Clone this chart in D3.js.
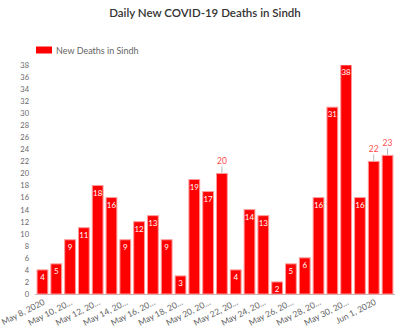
<!DOCTYPE html>
<html>
<head>
<meta charset="utf-8">
<script src="https://cdn.jsdelivr.net/npm/d3@7"></script>
<style>
  html, body { margin: 0; padding: 0; background: #fff; }
  svg { display: block; font-family: Lato, "Noto Sans", sans-serif; }
</style>
</head>
<body>
<svg id="chart" width="400" height="331"></svg>
<script>
// Daily new COVID-19 deaths in Sindh, 8 May – 2 June 2020
const dates = [
  "May 8, 2020", "May 9, 2020", "May 10, 2020", "May 11, 2020", "May 12, 2020",
  "May 13, 2020", "May 14, 2020", "May 15, 2020", "May 16, 2020", "May 17, 2020",
  "May 18, 2020", "May 19, 2020", "May 20, 2020", "May 21, 2020", "May 22, 2020",
  "May 23, 2020", "May 24, 2020", "May 25, 2020", "May 26, 2020", "May 27, 2020",
  "May 28, 2020", "May 29, 2020", "May 30, 2020", "May 31, 2020", "Jun 1, 2020",
  "Jun 2, 2020"
];
const deaths = [4, 5, 9, 11, 18, 16, 9, 12, 13, 9, 3, 19, 17, 20, 4, 14, 13, 2, 5, 6, 16, 31, 38, 16, 22, 23];
// bars whose value label sits above the bar on a short leader line
const outsideLabels = ["May 21, 2020", "Jun 1, 2020", "Jun 2, 2020"];
// shortened axis labels, shown on every second day
const tickLabels = {
  "May 8, 2020": "May 8, 2020", "May 10, 2020": "May 10, 20…", "May 12, 2020": "May 12, 20…",
  "May 14, 2020": "May 14, 20…", "May 16, 2020": "May 16, 20…", "May 18, 2020": "May 18, 20…",
  "May 20, 2020": "May 20, 20…", "May 22, 2020": "May 22, 20…", "May 24, 2020": "May 24, 20…",
  "May 26, 2020": "May 26, 20…", "May 28, 2020": "May 28, 20…", "May 30, 2020": "May 30, 20…",
  "Jun 1, 2020": "Jun 1, 2020"
};
const yTicks = d3.range(0, 39, 2);

const data = dates.map((d, i) => ({ date: d, value: deaths[i] }));

const svg = d3.select("#chart");
const margin = { top: 65, right: 5, bottom: 37, left: 35 };
const width = 400, height = 331;

const x = d3.scaleBand()
  .domain(dates)
  .range([margin.left, width - margin.right])
  .paddingInner(0.22)
  .paddingOuter(0.15);

const y = d3.scaleLinear()
  .domain([0, 38])
  .range([height - margin.bottom, margin.top]);

// Title
svg.append("text")
  .attr("x", 205).attr("y", 17)
  .attr("text-anchor", "middle")
  .attr("font-size", 11.5).attr("font-weight", 600)
  .attr("fill", "#333")
  .text("Daily New COVID-19 Deaths in Sindh");

// Legend
svg.append("rect")
  .attr("x", 36).attr("y", 46.5).attr("width", 16).attr("height", 7)
  .attr("fill", "#ff0000");
svg.append("text")
  .attr("x", 56).attr("y", 53.5)
  .attr("font-size", 9).attr("fill", "#666")
  .text("New Deaths in Sindh");

// Y axis (labels only)
const yAxis = svg.append("g")
  .attr("transform", `translate(${margin.left - 6},0)`)
  .call(d3.axisLeft(y).tickValues(yTicks).tickSize(0).tickPadding(0));
yAxis.select(".domain").remove();
yAxis.selectAll("text").attr("font-size", 7.5).attr("fill", "#666")
  .attr("font-family", "Lato, 'Noto Sans', sans-serif");

// X axis
const xAxis = svg.append("g")
  .attr("transform", `translate(0,${height - margin.bottom})`)
  .call(d3.axisBottom(x)
    .tickValues(dates.filter(d => tickLabels[d]))
    .tickFormat(d => tickLabels[d])
    .tickSize(0).tickPadding(0));
xAxis.select(".domain")
  .attr("d", `M${margin.left},0.5H${width - 5}`)
  .attr("stroke", "#bbb");
xAxis.selectAll("text")
  .attr("font-size", 8.5).attr("fill", "#666")
  .attr("font-family", "Lato, 'Noto Sans', sans-serif")
  .attr("text-anchor", "end")
  .attr("dy", 0)
  .attr("transform", "translate(3,10) rotate(-27)");

// Bars
const clipTop = margin.top;
svg.append("defs").append("clipPath").attr("id", "plot")
  .append("rect").attr("x", 0).attr("y", clipTop)
  .attr("width", width).attr("height", height - margin.bottom - clipTop + 1);

const bars = svg.append("g").attr("clip-path", "url(#plot)");
bars.selectAll("rect")
  .data(data)
  .join("rect")
  .attr("x", d => x(d.date))
  .attr("y", d => y(d.value))
  .attr("width", x.bandwidth())
  .attr("height", d => y(0) - y(d.value))
  .attr("fill", "#ff0000")
  .attr("stroke", "#ff9a9a")
  .attr("stroke-width", 1);

// Value labels inside bars
bars.selectAll("text.inside")
  .data(data.filter(d => !outsideLabels.includes(d.date)))
  .join("text")
  .attr("class", "inside")
  .attr("x", d => x(d.date) + x.bandwidth() / 2)
  .attr("y", d => y(d.value) + 10)
  .attr("text-anchor", "middle")
  .attr("font-size", 8).attr("fill", "#fff")
  .text(d => d.value);

// Value labels above bars with leader lines
const outside = svg.append("g")
  .selectAll("g")
  .data(data.filter(d => outsideLabels.includes(d.date)))
  .join("g");
outside.append("line")
  .attr("x1", d => x(d.date) + x.bandwidth() / 2)
  .attr("x2", d => x(d.date) + x.bandwidth() / 2)
  .attr("y1", d => y(d.value))
  .attr("y2", d => y(d.value) - 7)
  .attr("stroke", "#bbb");
outside.append("text")
  .attr("x", d => x(d.date) + x.bandwidth() / 2)
  .attr("y", d => y(d.value) - 9)
  .attr("text-anchor", "middle")
  .attr("font-size", 8.5).attr("fill", "#ff4d4d")
  .text(d => d.value);
</script>
</body>
</html>
